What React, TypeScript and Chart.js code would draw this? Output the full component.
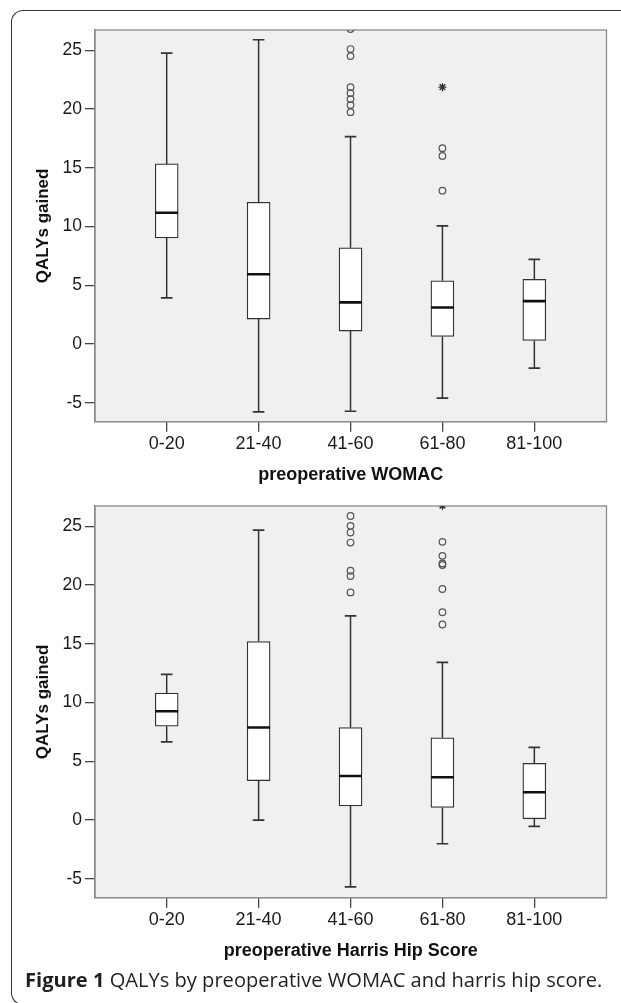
import React, { useEffect, useRef } from 'react';
import { Chart, registerables } from 'chart.js';
Chart.register(...registerables);

const categories = ['0-20', '21-40', '41-60', '61-80', '81-100'];
const yTicks = [-5, 0, 5, 10, 15, 20, 25];
const yAxisTitle = 'QALYs gained';

// Top panel: preoperative WOMAC
const womacTitle = 'preoperative WOMAC';
const womacMin = [3.94, -5.76, -5.71, -4.6, -2.04];
const womacQ1 = [9.03, 2.13, 1.11, 0.65, 0.31];
const womacMedian = [11.18, 5.94, 3.55, 3.12, 3.66];
const womacQ3 = [15.33, 12.07, 8.2, 5.39, 5.51];
const womacMax = [24.76, 25.89, 17.65, 10.05, 7.21];
const womacOutlierCat = [2, 2, 2, 2, 2, 2, 2, 2, 3, 3, 3];
const womacOutlierVal = [26.8, 25.1, 24.5, 21.86, 21.35, 20.84, 20.33, 19.73, 16.67, 16.01, 13.05];
const womacExtremeCat = [3];
const womacExtremeVal = [21.86];

// Bottom panel: preoperative Harris Hip Score
const harrisTitle = 'preoperative Harris Hip Score';
const harrisMin = [6.66, 0, -5.68, -2.01, -0.54];
const harrisQ1 = [7.99, 3.36, 1.21, 1.07, 0.11];
const harrisMedian = [9.26, 7.88, 3.75, 3.64, 2.37];
const harrisQ3 = [10.81, 15.19, 7.88, 7.0, 4.83];
const harrisMax = [12.4, 24.66, 17.37, 13.42, 6.19];
const harrisOutlierCat = [2, 2, 2, 2, 2, 2, 2, 3, 3, 3, 3, 3, 3, 3];
const harrisOutlierVal = [25.87, 25.03, 24.46, 23.61, 21.21, 20.76, 19.37, 23.67, 22.48, 21.83, 21.7, 19.66, 17.68, 16.64];
const harrisExtremeCat = [3];
const harrisExtremeVal = [26.75];

const captionBold = 'Figure 1';
const captionText = ' QALYs by preoperative WOMAC and harris hip score.';

const FONT = "'Liberation Sans', Arial, sans-serif";

const plotBg = {
  id: 'plotBg',
  beforeDraw(chart: any) {
    const { ctx, chartArea: a } = chart;
    ctx.save();
    ctx.fillStyle = '#f0f0f0';
    ctx.fillRect(a.left, a.top, a.right - a.left, a.bottom - a.top);
    ctx.strokeStyle = '#8a8a8a';
    ctx.lineWidth = 1.3;
    ctx.strokeRect(a.left, a.top, a.right - a.left, a.bottom - a.top);
    ctx.restore();
  },
};

type Props = {
  mins: number[]; q1: number[]; med: number[]; q3: number[]; maxs: number[];
  outCat: number[]; outVal: number[]; extCat: number[]; extVal: number[];
  xTitle: string;
};

function BoxChart(p: Props) {
  const ref = useRef<HTMLCanvasElement | null>(null);
  useEffect(() => {
    if (!ref.current) return;
    const whisker: any[] = [];
    const caps: any[] = [];
    categories.forEach((_, i) => {
      whisker.push({ x: i, y: p.q3[i] }, { x: i, y: p.maxs[i] }, { x: i, y: null });
      whisker.push({ x: i, y: p.q1[i] }, { x: i, y: p.mins[i] }, { x: i, y: null });
      caps.push({ x: i, y: p.maxs[i] }, { x: i, y: p.mins[i] });
    });
    const chart = new Chart(ref.current, {
      type: 'bar',
      data: {
        datasets: [
          {
            type: 'bar',
            data: categories.map((_, i) => ({ x: i, y: [p.q1[i], p.q3[i]] })) as any,
            backgroundColor: '#ffffff',
            borderColor: '#333333',
            borderWidth: 1.3,
            borderSkipped: false,
            barThickness: 23,
            order: 1,
          } as any,
          {
            type: 'line',
            data: whisker,
            borderColor: '#333333',
            borderWidth: 1.5,
            pointRadius: 0,
            spanGaps: false,
            order: 2,
          } as any,
          {
            type: 'scatter',
            data: caps,
            pointStyle: 'line',
            pointRadius: 5.8,
            pointBorderColor: '#333333',
            pointBorderWidth: 1.7,
            order: 0,
          } as any,
          {
            type: 'scatter',
            data: categories.map((_, i) => ({ x: i, y: p.med[i] })),
            pointStyle: 'line',
            pointRadius: 11.5,
            pointBorderColor: '#111111',
            pointBorderWidth: 2.6,
            order: 0,
          } as any,
          {
            type: 'scatter',
            data: p.outCat.map((c, i) => ({ x: c, y: p.outVal[i] })),
            pointStyle: 'circle',
            pointRadius: 3.3,
            pointBorderColor: '#555555',
            pointBackgroundColor: 'rgba(0,0,0,0)',
            pointBorderWidth: 1.2,
            clip: 0,
            order: 0,
          } as any,
          {
            type: 'scatter',
            data: p.extCat.map((c, i) => ({ x: c, y: p.extVal[i] })),
            pointStyle: 'star',
            pointRadius: 4,
            pointBorderColor: '#333333',
            pointBorderWidth: 1.4,
            clip: 0,
            order: 0,
          } as any,
        ],
      },
      options: {
        responsive: false,
        animation: false,
        events: [],
        layout: { padding: { top: 30, right: 14.5, left: 0, bottom: 0 } },
        plugins: { legend: { display: false }, tooltip: { enabled: false } },
        scales: {
          x: {
            type: 'linear',
            offset: false,
            min: -0.78,
            max: 4.785,
            afterBuildTicks: (s: any) => { s.ticks = categories.map((_, i) => ({ value: i })); },
            afterFit: (s: any) => { s.height = 68.3; },
            ticks: {
              callback: (v: any) => categories[v as number],
              font: { family: FONT, size: 18 },
              color: '#1a1a1a',
              padding: 2,
              maxRotation: 0,
              autoSkip: false,
            },
            grid: { offset: false, drawOnChartArea: false, drawTicks: true, tickLength: 10, color: '#444444', lineWidth: 1.3 },
            border: { display: true, color: '#8a8a8a', width: 1.3 },
            title: {
              display: true,
              text: p.xTitle,
              font: { family: FONT, size: 18, weight: 'bold' },
              color: '#111111',
              padding: { top: 0, bottom: 4 },
            },
          },
          y: {
            type: 'linear',
            min: -6.6,
            max: 26.72,
            afterBuildTicks: (s: any) => { s.ticks = yTicks.map((v) => ({ value: v })); },
            afterFit: (s: any) => { s.width = 95; },
            ticks: {
              font: { family: FONT, size: 17.5 },
              color: '#1a1a1a',
              padding: 3,
            },
            grid: { drawOnChartArea: false, drawTicks: true, tickLength: 10, color: '#444444', lineWidth: 1.3 },
            border: { display: true, color: '#8a8a8a', width: 1.3 },
            title: {
              display: true,
              text: yAxisTitle,
              font: { family: FONT, size: 17, weight: 'bold' },
              color: '#111111',
              padding: { top: 33, bottom: 0 },
            },
          },
        },
      } as any,
      plugins: [plotBg],
    });
    return () => chart.destroy();
  }, []);
  return <canvas ref={ref} width={621} height={490} style={{ width: 621, height: 490, display: 'block' }} />;
}

export default function App() {
  return (
    <div style={{ position: 'fixed', left: 0, top: 0, width: 621, height: 1003, overflow: 'hidden', background: '#fff' }}>
      <div style={{
        position: 'absolute', left: 11, top: 10, width: 720, height: 993,
        borderLeft: '1.5px solid #333', borderTop: '1.5px solid #333', borderBottom: '1.5px solid #333',
        borderTopLeftRadius: 12, borderBottomLeftRadius: 12,
      }} />
      <div style={{ position: 'absolute', left: 0, top: 0 }}>
        <BoxChart mins={womacMin} q1={womacQ1} med={womacMedian} q3={womacQ3} maxs={womacMax}
          outCat={womacOutlierCat} outVal={womacOutlierVal} extCat={womacExtremeCat} extVal={womacExtremeVal}
          xTitle={womacTitle} />
      </div>
      <div style={{ position: 'absolute', left: 0, top: 475.7 }}>
        <BoxChart mins={harrisMin} q1={harrisQ1} med={harrisMedian} q3={harrisQ3} maxs={harrisMax}
          outCat={harrisOutlierCat} outVal={harrisOutlierVal} extCat={harrisExtremeCat} extVal={harrisExtremeVal}
          xTitle={harrisTitle} />
      </div>
      <div style={{
        position: 'absolute', left: 25, top: 966, whiteSpace: 'nowrap',
        fontFamily: "'Open Sans', sans-serif", fontSize: 20.1, color: '#231f20',
      }}>
        <b>{captionBold}</b>{captionText}
      </div>
    </div>
  );
}
